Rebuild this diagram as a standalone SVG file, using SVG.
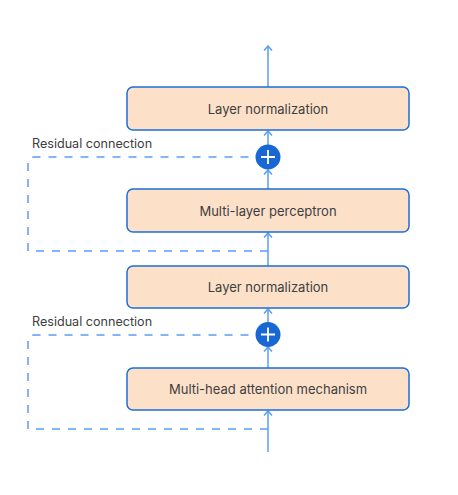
<svg xmlns="http://www.w3.org/2000/svg" width="458" height="495" viewBox="0 0 458 495">
<defs>
<marker id="ah" markerWidth="10" markerHeight="10" refX="8.5" refY="5" orient="auto" markerUnits="userSpaceOnUse" viewBox="0 0 10 10">
<path d="M4,1 L8.5,5 L4,9" fill="none" stroke="#5b9cf5" stroke-width="1.5"/>
</marker>
</defs>
<style>
.box{fill:#fde0c8;stroke:#1a6fd8;stroke-width:1.5}
.lbl{font-family:"Inter","Roboto",sans-serif;font-size:13px;fill:#3c4043;text-anchor:middle;dominant-baseline:central}
.res{font-family:"Inter","Roboto",sans-serif;font-size:12.6px;fill:#3c4043}
.arr{stroke:#5b9cf5;stroke-width:1.5;fill:none}
.dash{stroke:#5b9cf5;stroke-width:1.5;fill:none;stroke-dasharray:8 8}
.add{fill:#1967d2}
.plus{stroke:#fff;stroke-width:1.8}
</style>
<rect width="458" height="495" fill="#fff"/>
<g id="connectors">
<line class="arr" x1="268" y1="87" x2="268" y2="46" marker-end="url(#ah)"/>
<line class="arr" x1="268" y1="145" x2="268" y2="131" marker-end="url(#ah)"/>
<line class="arr" x1="268" y1="189" x2="268" y2="170" marker-end="url(#ah)"/>
<line class="arr" x1="268" y1="266" x2="268" y2="233" marker-end="url(#ah)"/>
<path class="dash" d="M268,251 H28 V163 Q28,157 34,157 H256"/>
<line class="arr" x1="268" y1="322" x2="268" y2="309" marker-end="url(#ah)"/>
<line class="arr" x1="268" y1="368" x2="268" y2="347" marker-end="url(#ah)"/>
<line class="arr" x1="268" y1="452" x2="268" y2="411" marker-end="url(#ah)"/>
<path class="dash" d="M268,429 H28 V341 Q28,335 34,335 H256"/>
</g>
<g id="ln-top">
<rect class="box" x="127" y="87" width="282" height="43" rx="6"/>
<text class="lbl" x="268" y="108.5">Layer normalization</text>
</g>
<g id="add-top">
<circle class="add" cx="268" cy="157" r="12.5"/>
<path class="plus" d="M261,157 H275 M268,150 V164"/>
</g>
<text class="res" x="32" y="148">Residual connection</text>
<g id="mlp">
<rect class="box" x="127" y="189" width="282" height="43" rx="6"/>
<text class="lbl" x="268" y="210.5">Multi-layer perceptron</text>
</g>
<g id="ln-bottom">
<rect class="box" x="127" y="266" width="282" height="42" rx="6"/>
<text class="lbl" x="268" y="287">Layer normalization</text>
</g>
<g id="add-bottom">
<circle class="add" cx="268" cy="334.5" r="12.5"/>
<path class="plus" d="M261,334.5 H275 M268,327.5 V341.5"/>
</g>
<text class="res" x="32" y="326">Residual connection</text>
<g id="mha">
<rect class="box" x="127" y="368" width="282" height="42" rx="6"/>
<text class="lbl" x="268" y="389">Multi-head attention mechanism</text>
</g>
</svg>
